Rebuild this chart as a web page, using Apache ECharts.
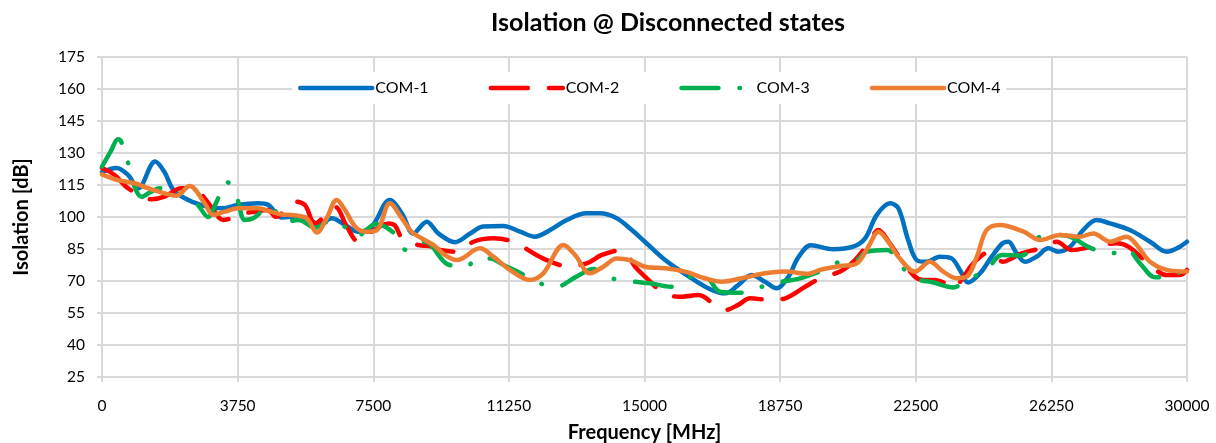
<!DOCTYPE html>
<html>
<head>
<meta charset="utf-8">
<script src="https://cdn.jsdelivr.net/npm/echarts@6/dist/echarts.min.js"></script>
<style>
html,body{margin:0;padding:0;background:#fff;}
#chart{width:1216px;height:443px;}
</style>
</head>
<body>
<div id="chart"></div>
<script>
// ---- Data (frequency in MHz, isolation in dB) ----
const seriesNames = ['COM-1', 'COM-2', 'COM-3', 'COM-4'];
const xTicks = [0, 3750, 7500, 11250, 15000, 18750, 22500, 26250, 30000];
const yTicks = [25, 40, 55, 70, 85, 100, 115, 130, 145, 160, 175];

const com1Freq = [0, 400, 720, 1000, 1470, 1730, 1960, 2290, 2750, 3300, 3760, 4310, 4600, 4960, 5150, 5700, 5980, 6350, 6720, 7090, 7460, 7960, 8290, 8610, 8980, 9300, 9760, 10180, 10540, 11100, 11560, 11970, 12390, 12850, 13400, 13770, 14230, 14650, 15010, 15570, 16300, 16860, 17230, 17590, 17960, 18330, 18650, 18980, 19250, 19600, 20220, 20770, 21100, 21420, 21790, 22020, 22290, 22530, 22800, 23170, 23490, 23720, 23950, 24280, 24600, 24900, 25060, 25290, 25520, 25840, 26170, 26440, 26770, 27130, 27500, 27870, 28420, 28980, 29440, 29720, 30000];
const com1Val = [121, 123, 119.7, 113.5, 126, 121, 113, 108.8, 105.6, 104.1, 105.6, 106.4, 105.6, 99.8, 100, 99.4, 96.3, 99.4, 96.3, 93.1, 95.5, 108, 101.7, 92.3, 97.8, 92.3, 88.2, 92.3, 95.5, 95.8, 93.1, 90.8, 93.9, 98.6, 101.7, 101.7, 99.4, 93.9, 88.4, 79.8, 71.3, 65.8, 64.2, 68.1, 72.8, 69.7, 66.6, 72, 81, 86.8, 84.9, 86.1, 90, 100.9, 106.4, 104.1, 89.2, 79.8, 79, 81.4, 80.6, 75.2, 69.3, 73.6, 81.4, 87.7, 88.4, 83, 79, 81.4, 85.3, 83.7, 86.1, 93.9, 98.6, 97, 93.9, 88.4, 83.7, 85.3, 88.4];

const com2Freq = [0, 350, 720, 1360, 1730, 2190, 2650, 3020, 3350, 3600, 3950, 4220, 4590, 4800, 5340, 5610, 5890, 6440, 6770, 7090, 7460, 7920, 8100, 8330, 8750, 9120, 9350, 9850, 10270, 10820, 11370, 11930, 12300, 12850, 13400, 13820, 14370, 14740, 15060, 15480, 15940, 16490, 17000, 17230, 17590, 17920, 18470, 18890, 19440, 19950, 20410, 20820, 21190, 21470, 21750, 22070, 22480, 22710, 23030, 23300, 23540, 23820, 24090, 24550, 24920, 25150, 25430, 25940, 26400, 26810, 27410, 28060, 28380, 28980, 29440, 29810, 30000];
const com2Val = [123, 119.7, 113.5, 108.3, 109.5, 113.5, 111.9, 104.8, 98.6, 99.5, 101.7, 102.5, 103.3, 100.1, 107.2, 105.6, 97, 104.8, 95.5, 88.4, 93.1, 97, 96, 89.2, 86.9, 86.1, 84.5, 83.7, 88.4, 90, 88.4, 83, 79.8, 77, 78.3, 82.2, 84.5, 76.7, 71.3, 65, 62.6, 63.4, 58, 56.4, 58.8, 61.9, 61.1, 61.9, 67.3, 72, 74.4, 79.8, 87.7, 93.9, 88.5, 80.6, 72, 70.5, 70.5, 69, 66.6, 72, 78.3, 83.7, 79, 80.6, 83, 85.3, 88.4, 84.5, 86.1, 87.7, 86.1, 77.5, 72.8, 72.8, 75.2];

const com3Freq = [0, 260, 440, 530, 720, 900, 1090, 1360, 1600, 2000, 2300, 2650, 2930, 3170, 3440, 3720, 3950, 4180, 4640, 5060, 5430, 5900, 6350, 6770, 7040, 7360, 7550, 8030, 8420, 8700, 8930, 9560, 10080, 10360, 10730, 11100, 11580, 12110, 12570, 13080, 13590, 14090, 14690, 15150, 15730, 16300, 16670, 17090, 17670, 18240, 18790, 19250, 19700, 20310, 20870, 21140, 21710, 22070, 22480, 22990, 23540, 23910, 24460, 24880, 25430, 25940, 26400, 26770, 27360, 27920, 28330, 28700, 29130, 29720, 30000];
const com3Val = [123.6, 131.4, 136.4, 135.3, 125.5, 114.2, 109.5, 111.9, 113.5, 112, 110, 105.6, 100, 107.2, 116.6, 109.5, 98.6, 99.4, 105, 97.8, 98.6, 95, 98.6, 94.7, 90.8, 94.7, 96.7, 93.1, 84.5, 87.7, 88.4, 77.8, 76.7, 80.6, 80.6, 77.5, 73.6, 68.9, 67.3, 71.7, 75.6, 71.3, 69.7, 68.9, 67.3, 72, 72, 65, 64.5, 67.3, 69.7, 71, 73.5, 78.5, 79.8, 83.7, 84.5, 77.5, 71.3, 69.3, 67, 70.5, 75.2, 82.2, 82, 90.8, 91.6, 90.8, 85.3, 83, 84.9, 78.3, 71.7, 73.6, 75.5];

const com4Freq = [0, 440, 900, 1270, 1730, 2060, 2420, 2840, 3070, 3390, 3760, 4310, 4680, 4960, 5240, 5660, 5940, 6210, 6490, 6720, 7000, 7270, 7600, 7960, 8290, 8560, 8840, 9160, 9480, 9810, 10450, 10820, 11280, 11830, 12200, 12760, 13080, 13490, 13860, 14230, 14600, 15010, 15570, 16120, 16670, 17140, 17690, 18330, 18890, 19530, 19850, 20410, 20870, 21190, 21470, 21740, 22020, 22480, 22890, 23260, 23630, 23910, 24190, 24460, 24830, 25480, 25940, 26490, 27040, 27410, 27870, 28330, 28610, 28980, 29440, 30000];
const com4Val = [120, 117.3, 115.8, 113.5, 111.1, 110, 114.5, 106.4, 101, 102.5, 104.1, 104.1, 102.5, 101.2, 100.9, 99.4, 92.7, 99.4, 108, 103.3, 95.5, 93.1, 93.9, 106.4, 99.4, 93.1, 90, 86.9, 82.2, 79.8, 85.3, 81.4, 75.2, 70.5, 73.6, 86.9, 82.2, 73.6, 76.7, 80.6, 79.8, 76.7, 76, 74.4, 71.3, 69.7, 71.3, 73.6, 74.4, 73.4, 75.2, 77, 78.3, 86.1, 93.1, 88.4, 81.4, 74.4, 79, 74.4, 71.3, 72, 81.4, 93.9, 96.3, 93.1, 89.2, 91.6, 90.8, 92.3, 88.4, 90.8, 86.9, 79, 75.2, 74.4];

const pairs = (f, v) => f.map((x, i) => [x, v[i]]);

const FONT = 'Lato';
const gridColor = '#d9d9d9';
const LW = 4.5;

const chart = echarts.init(document.getElementById('chart'), null, {renderer: 'canvas'});
const mkSeries = (name, data, color, type) => ({
  name: name,
  type: 'line',
  data: data,
  smooth: 0.35,
  symbol: 'none',
  showSymbol: false,
  animation: false,
  color: color,
  itemStyle: {color: color},
  lineStyle: {color: color, width: LW, type: type, cap: 'round', join: 'round'}
});

chart.setOption({
  animation: false,
  backgroundColor: '#fff',
  title: {
    text: 'Isolation @ Disconnected states',
    left: 663, top: 5,
    textAlign: 'center',
    textStyle: {fontFamily: FONT, fontWeight: 'bold', fontSize: 25, color: '#000'}
  },
  legend: {
    data: seriesNames,
    left: 292, top: 72,
    itemWidth: 72, itemHeight: 14, itemGap: 60,
    backgroundColor: '#fff',
    padding: [8, 6, 8, 6],
    itemStyle: {opacity: 0, borderWidth: 0},
    lineStyle: {width: LW, cap: 'round'},
    textStyle: {fontFamily: FONT, fontSize: 16, color: '#000', padding: [0, 0, 0, -2]}
  },
  grid: {left: 102, right: 29, top: 57, bottom: 66, containLabel: false, outerBoundsMode: 'none'},
  xAxis: {
    type: 'value', min: xTicks[0], max: xTicks[xTicks.length - 1], interval: 3750,
    name: 'Frequency [MHz]', nameLocation: 'middle', nameGap: 46,
    nameTextStyle: {fontFamily: FONT, fontWeight: 'bold', fontSize: 20, color: '#000'},
    axisLine: {show: true, lineStyle: {color: gridColor, width: 2}},
    axisTick: {show: true, length: 5, lineStyle: {color: gridColor, width: 2}},
    axisLabel: {fontFamily: FONT, fontSize: 15.5, color: '#000', margin: 21, formatter: v => String(v)},
    splitLine: {show: true, lineStyle: {color: gridColor, width: 2}}
  },
  yAxis: {
    type: 'value', min: yTicks[0], max: yTicks[yTicks.length - 1], interval: 15,
    name: 'Isolation [dB]', nameLocation: 'middle', nameGap: 70, nameRotate: 90,
    nameTextStyle: {fontFamily: FONT, fontWeight: 'bold', fontSize: 20, color: '#000'},
    axisLine: {show: true, lineStyle: {color: gridColor, width: 2}},
    axisTick: {show: true, length: 5, lineStyle: {color: gridColor, width: 2}},
    axisLabel: {fontFamily: FONT, fontSize: 15.5, color: '#000', margin: 17, formatter: v => String(v)},
    splitLine: {show: true, lineStyle: {color: gridColor, width: 2}}
  },
  series: [
    mkSeries(seriesNames[0], pairs(com1Freq, com1Val), '#0070C0', 'solid'),
    mkSeries(seriesNames[1], pairs(com2Freq, com2Val), '#FF0000', [37, 21]),
    mkSeries(seriesNames[2], pairs(com3Freq, com3Val), '#00B050', [37, 21, 0.5, 21]),
    mkSeries(seriesNames[3], pairs(com4Freq, com4Val), '#ED7D31', 'solid')
  ]
});
</script>
</body>
</html>
